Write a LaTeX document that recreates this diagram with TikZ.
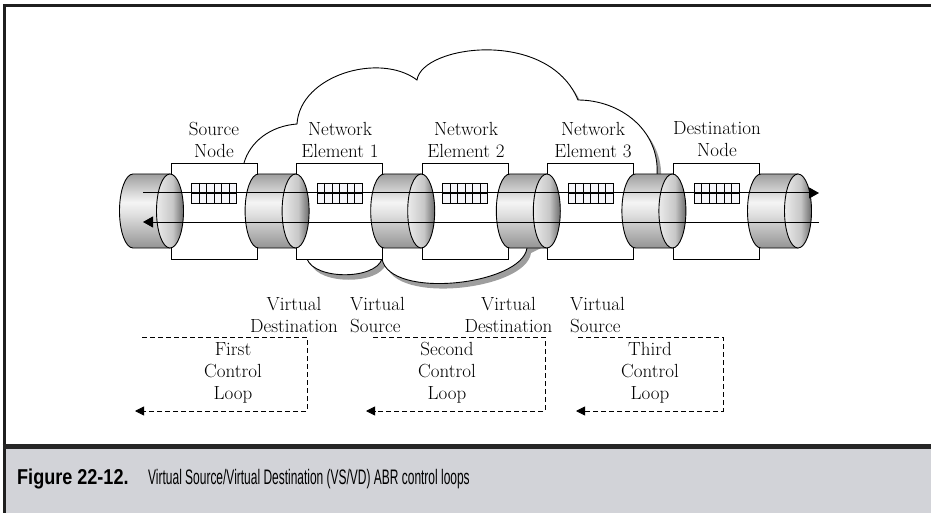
\documentclass[tikz,border=0pt]{standalone}
\usepackage{fontspec}
\newfontfamily\capboldfont[FakeStretch=0.84]{Liberation Sans}
\newfontfamily\captextfont[FakeStretch=0.57]{Liberation Sans}
\usetikzlibrary{arrows.meta}

% shading of a cylinder body (bottom -> top) and of its front face (left -> right)
\pgfdeclareverticalshading{cylbody}{100bp}{color(0bp)=(black!42); color(25bp)=(black!42); color(48bp)=(black!12); color(56bp)=(black!4); color(75bp)=(black!38); color(100bp)=(black!38)}
\pgfdeclarehorizontalshading{cylfront}{100bp}{color(0bp)=(black!8); color(25bp)=(black!8); color(55bp)=(black!22); color(75bp)=(black!58); color(100bp)=(black!58)}

\definecolor{capgray}{HTML}{D2D3D8}
\definecolor{buffill}{HTML}{F6F6FA}

\tikzset{
  thin line/.style={line width=0.9pt, draw=black},
  nodebox/.style={thin line, fill=white, minimum width=86pt, minimum height=96pt, inner sep=0pt},
  lbl/.style={font=\fontsize{19}{22}\selectfont, align=center, inner sep=0pt, anchor=north},
  lblleft/.style={font=\fontsize{19}{22}\selectfont, align=left, inner sep=0pt, anchor=north west},
  flowline/.style={line width=1pt, -{Triangle[length=10pt,width=11pt]}},
  loopline/.style={line width=0.8pt, dash pattern=on 5pt off 3pt, -{Triangle[length=9pt,width=9pt]}},
  cloudshadow/.style={fill=black!38},
}

\begin{document}
\begin{tikzpicture}[x=1pt, y=-1pt]
\useasboundingbox (0,0) rectangle (931,513);

% caption band and frame
\fill[capgray] (3,448) rectangle (931,513);
\draw[line width=3pt, black!88] (931,5.5) -- (4,5.5) -- (4,513);
\draw[line width=5pt, black!85] (2.5,446) -- (931,446);

% cloud: shadow, white body, visible outline
\def\cloudpath{(244,163) .. controls (250,142) and (270,126) .. (297,124)
  .. controls (300,75) and (380,52) .. (417,80)
  .. controls (422,45) and (548,28) .. (578,100)
  .. controls (620,100) and (660,130) .. (657,175)
  -- (655,200) -- (560,232) -- (527,248)
  .. controls (522,285) and (390,300) .. (382,259)
  .. controls (375,280) and (315,280) .. (307,259)
  -- (307,235) -- (250,190) -- cycle}
\begin{scope}[shift={(4,5)}]
  \fill[cloudshadow] \cloudpath;
\end{scope}
\fill[white] \cloudpath;
\draw[thin line] (244,163) .. controls (250,142) and (270,126) .. (297,124)
  .. controls (300,75) and (380,52) .. (417,80)
  .. controls (422,45) and (548,28) .. (578,100)
  .. controls (620,100) and (660,130) .. (657,175);
\draw[thin line] (527,248) .. controls (522,285) and (390,300) .. (382,259)
  .. controls (375,280) and (315,280) .. (307,259);

% node boxes with their cell buffers
\foreach \n/\cx in {1/214, 2/339.6, 3/465.2, 4/590.8, 5/716.4} {
  \node[nodebox] (box\n) at (\cx,211) {};
  \fill[buffill] (\cx-22.5,183) rectangle (\cx+22.5,203);
  \draw[line width=0.8pt] (\cx-22.5,183) rectangle (\cx+22.5,203);
  \draw[line width=0.8pt] (\cx-22.5,193) -- (\cx+22.5,193);
  \foreach \k in {1,...,5} {
    \draw[line width=0.8pt] (\cx-22.5+7.5*\k,183) -- (\cx-22.5+7.5*\k,203);
  }
}

% link cylinders
\foreach \fx in {170, 295.6, 421.2, 546.8, 672.4, 798} {
  \pgfmathsetmacro\bx{\fx-37}
  \shadedraw[shading=cylbody, thin line] (\bx,174) -- (\fx,174) -- (\fx,248) -- (\bx,248)
    arc[start angle=90, end angle=270, x radius=13.5, y radius=37] -- cycle;
  \shadedraw[shading=cylfront, thin line] (\fx,211) ellipse[x radius=13.5, y radius=37];
}

% forward and backward data flow
\coordinate (fwdA) at (143,193);
\coordinate (fwdB) at (819,193);
\coordinate (bwdA) at (819,222);
\coordinate (bwdB) at (143,222);
\draw[flowline] (fwdA) -- (fwdB);
\draw[flowline] (bwdA) -- (bwdB);

% element names
\node[lbl] (srcname) at (214,121.8) {Source\\Node};
\node[lbl] (ne1name) at (340,121.8) {Network\\Element 1};
\node[lbl] (ne2name) at (466,121.8) {Network\\Element 2};
\node[lbl] (ne3name) at (593,121.8) {Network\\Element 3};
\node[lbl] (dstname) at (717,121.8) {Destination\\Node};

% virtual source / destination labels
\node[lbl] (vd1) at (294,296.8) {Virtual\\Destination};
\node[lblleft] (vs1) at (350,296.8) {Virtual\\Source};
\node[lbl] (vd2) at (508.5,296.8) {Virtual\\Destination};
\node[lblleft] (vs2) at (570,296.8) {Virtual\\Source};

% control loops
\coordinate (l1a) at (142,337); \coordinate (l1b) at (307,337);
\coordinate (l1c) at (307,411); \coordinate (l1d) at (135,411);
\coordinate (l2a) at (373,337); \coordinate (l2b) at (545,337);
\coordinate (l2c) at (545,411); \coordinate (l2d) at (366,411);
\coordinate (l3a) at (578,337); \coordinate (l3b) at (723,337);
\coordinate (l3c) at (723,411); \coordinate (l3d) at (576,411);
\draw[loopline] (l1a) -- (l1b) -- (l1c) -- (l1d);
\draw[loopline] (l2a) -- (l2b) -- (l2c) -- (l2d);
\draw[loopline] (l3a) -- (l3b) -- (l3c) -- (l3d);
\node[lbl] (loop1) at (233,342.3) {First\\Control\\Loop};
\node[lbl] (loop2) at (447,342.3) {Second\\Control\\Loop};
\node[lbl] (loop3) at (650,342.3) {Third\\Control\\Loop};

% caption
\node[anchor=base west, inner sep=0pt, font=\capboldfont\bfseries\fontsize{21.5}{24}\selectfont] (figno) at (17,484) {Figure 22-12.};
\node[anchor=base west, inner sep=0pt, font=\captextfont\fontsize{21}{24}\selectfont] (figtitle) at (148,484) {Virtual Source/Virtual Destination (VS/VD) ABR control loops};
\end{tikzpicture}
\end{document}
